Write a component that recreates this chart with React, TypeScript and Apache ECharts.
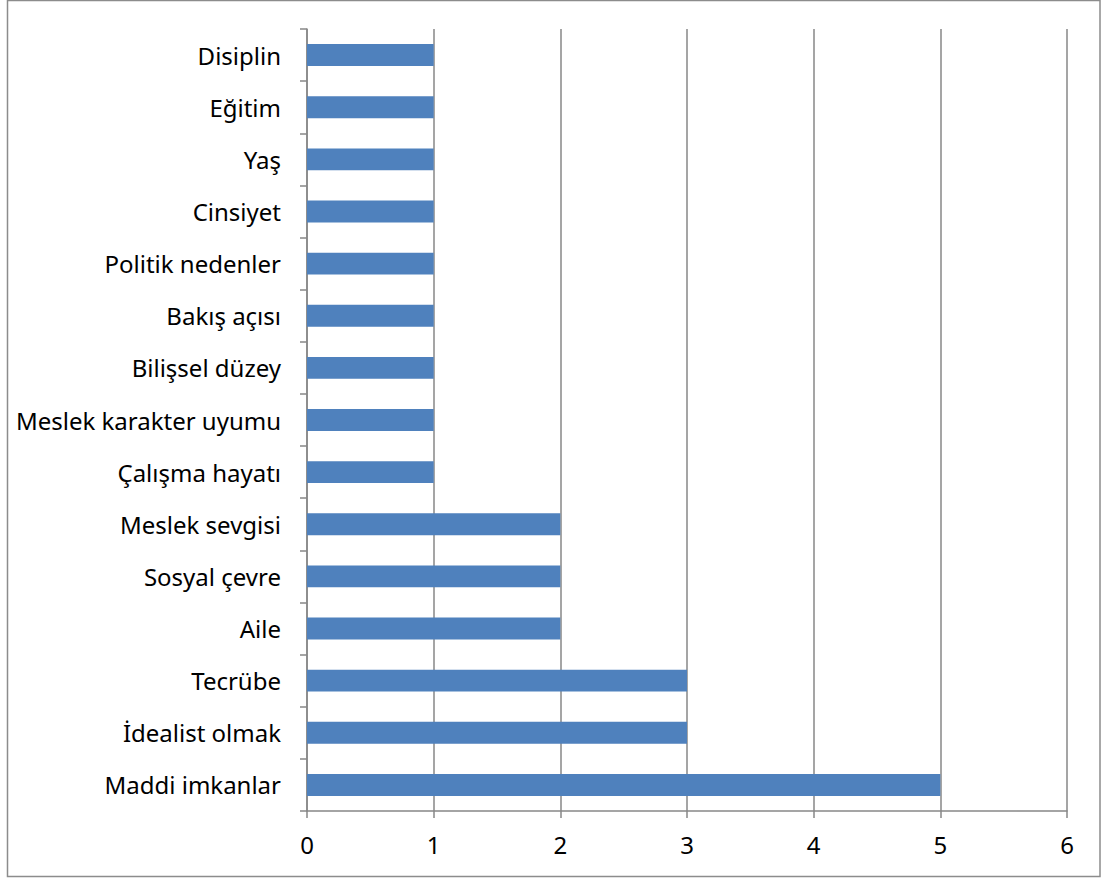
import React, { useEffect, useRef } from "react";
import * as echarts from "echarts";

const categories = [
  "Maddi imkanlar",
  "İdealist olmak",
  "Tecrübe",
  "Aile",
  "Sosyal çevre",
  "Meslek sevgisi",
  "Çalışma hayatı",
  "Meslek karakter uyumu",
  "Bilişsel düzey",
  "Bakış açısı",
  "Politik nedenler",
  "Cinsiyet",
  "Yaş",
  "Eğitim",
  "Disiplin",
];
const values = [5, 3, 3, 2, 2, 2, 1, 1, 1, 1, 1, 1, 1, 1, 1];
const xMin = 0;
const xMax = 6;
const xInterval = 1;

export default function App() {
  const ref = useRef<HTMLDivElement>(null);
  useEffect(() => {
    if (!ref.current) return;
    const chart = echarts.init(ref.current, null, { renderer: "svg" });
    const gray = "#878787";
    chart.setOption({
      animation: false,
      textStyle: { fontFamily: "Noto Sans" },
      graphic: [
        {
          type: "rect",
          shape: { x: 7.5, y: 0.5, width: 1092.5, height: 876 },
          style: { fill: "none", stroke: "#8c8c8c", lineWidth: 1.5 },
          silent: true,
        },
      ],
      grid: { left: 307, top: 29, right: 34, bottom: 67, containLabel: false },
      xAxis: {
        type: "value",
        min: xMin,
        max: xMax,
        interval: xInterval,
        axisLine: { show: true, lineStyle: { color: gray, width: 1.5 } },
        axisTick: { show: true, length: 7, lineStyle: { color: gray, width: 1.5 } },
        splitLine: { show: true, lineStyle: { color: gray, width: 1.5 } },
        axisLabel: { color: "#000", fontSize: 24, margin: 21, fontFamily: "Noto Sans" },
      },
      yAxis: {
        type: "category",
        data: categories,
        axisLine: { show: true, lineStyle: { color: gray, width: 1.5 } },
        axisTick: { show: true, length: 7, lineStyle: { color: gray, width: 1.5 } },
        axisLabel: { color: "#000", fontSize: 24, margin: 26, fontFamily: "Noto Sans" },
      },
      series: [
        {
          type: "bar",
          data: values,
          barCategoryGap: "58%",
          itemStyle: { color: "#4F81BD" },
        },
      ],
    });
    return () => chart.dispose();
  }, []);
  return (
    <div
      ref={ref}
      style={{ position: "absolute", left: 0, top: 0, width: 1101, height: 878 }}
    />
  );
}
